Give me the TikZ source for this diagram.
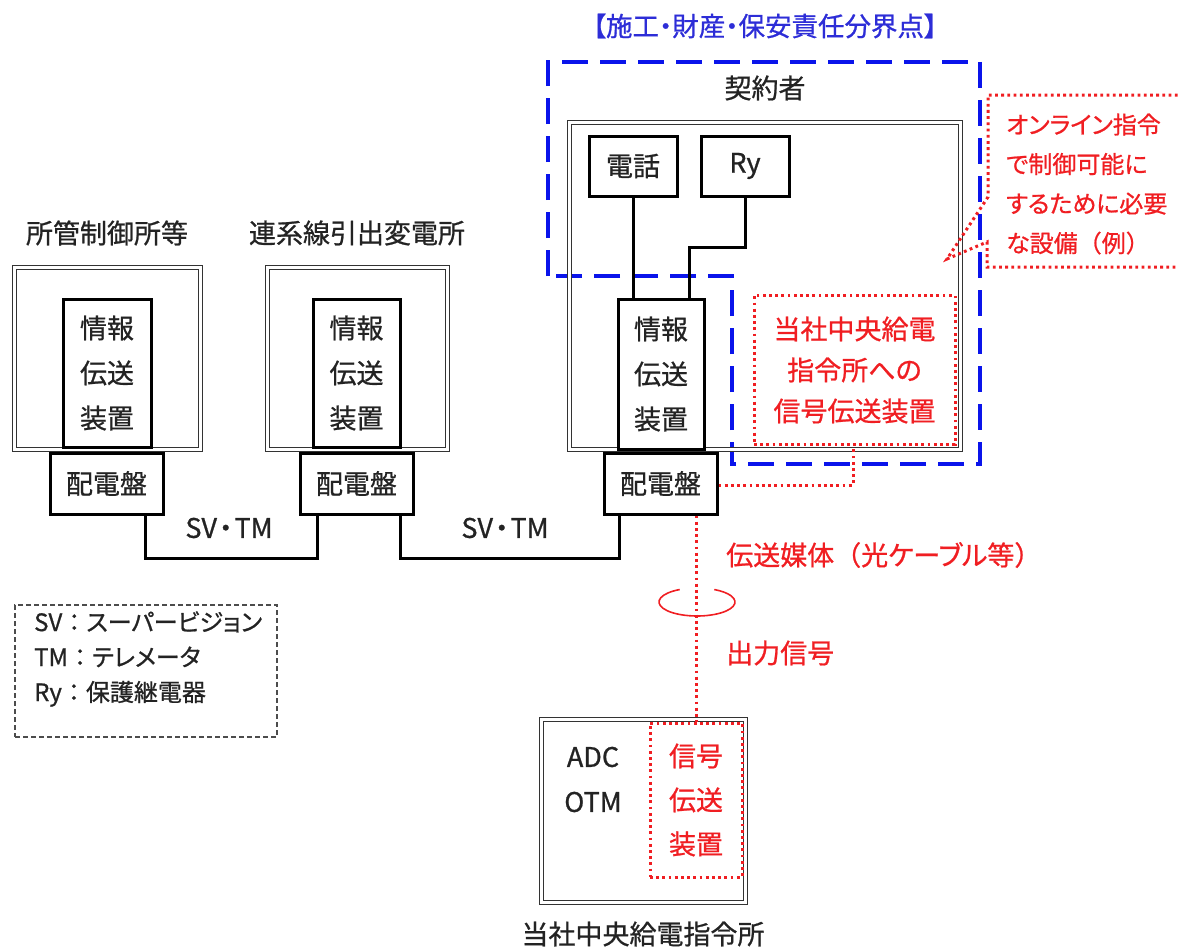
\documentclass[tikz,border=0pt]{standalone}
\usepackage{fontspec}
\setmainfont{Noto Sans CJK JP}[RawFeature={+palt;embolden=0.8}]
\newfontfamily\nopalt{Noto Sans CJK JP}[RawFeature={embolden=0.8}]
\definecolor{redc}{RGB}{240,30,34}
\definecolor{bluec}{RGB}{10,20,235}
\definecolor{titleblue}{RGB}{45,45,215}
\definecolor{textc}{RGB}{35,35,35}
\begin{document}
\begin{tikzpicture}[x=1pt,y=-1pt,
  txt/.style={font=\fontsize{27}{45}\selectfont, text=textc, inner sep=0pt},
  rtxt/.style={font=\fontsize{27}{41}\selectfont, text=redc, inner sep=0pt},
  dbox/.style={rectangle, draw=black!80, line width=1.6pt, double=white, double distance=2.4pt, inner sep=0pt},
  bbox/.style={rectangle, draw=black, line width=3pt, fill=white, inner sep=0pt, txt, align=center},
  conn/.style={draw=black, line width=3pt},
  rdot/.style={draw=redc, line width=3pt, dash pattern=on 2.8pt off 3.4pt},
  bdash/.style={draw=bluec, line width=4.2pt, dash pattern=on 26pt off 12pt},
  lgbox/.style={rectangle, draw=black!70, line width=1.5pt, dash pattern=on 5pt off 3pt, inner sep=0pt}
]
\useasboundingbox (0,0) rectangle (1178,950);

% title and boundary
\node[font=\fontsize{26.5}{30}\selectfont, text=titleblue, inner sep=0pt] (title) at (765,26) {【施工・財産・保安責任分界点】};
\coordinate (b1) at (548,62);
\coordinate (b2) at (980,62);
\coordinate (b3) at (980,464);
\coordinate (b4) at (732,464);
\coordinate (b5) at (732,276);
\coordinate (b6) at (548,276);
\draw[bdash] (b6) -- (b1) -- (b2) -- (b3) -- (b4) -- (b5) -- (b6);

% station 1
\node[txt] (l1) at (107,233) {所管制御所等};
\node[dbox, minimum width=186pt, minimum height=182pt] (s1) at (107.5,358.5) {};
\node[bbox, minimum width=88pt, minimum height=148pt] (i1) at (107,373) {情報\\伝送\\装置};
\node[bbox, minimum width=113pt, minimum height=61pt] (p1) at (106.5,483.5) {配電盤};

% station 2
\node[txt] (l2) at (357,233) {連系線引出変電所};
\node[dbox, minimum width=180pt, minimum height=182pt] (s2) at (357.5,358.5) {};
\node[bbox, minimum width=87pt, minimum height=148pt] (i2) at (356.5,373) {情報\\伝送\\装置};
\node[bbox, minimum width=113pt, minimum height=61pt] (p2) at (356.5,483.5) {配電盤};

% contractor
\node[txt] (l3) at (765,88) {契約者};
\node[dbox, minimum width=391pt, minimum height=327pt] (s3) at (765,286) {};
\node[bbox, minimum width=88pt, minimum height=60pt] (tel) at (633,166) {電話};
\node[bbox, minimum width=88pt, minimum height=60pt] (ry) at (745,166) {Ry};
\node[bbox, minimum width=86pt, minimum height=150pt] (i3) at (661,374) {情報\\伝送\\装置};
\node[bbox, minimum width=113pt, minimum height=61pt] (p3) at (660.5,483.5) {配電盤};
\node[rectangle, rdot, minimum width=201pt, minimum height=149pt, rtxt, align=center] (sigA) at (854.5,370) {当社中央給電\\指令所への\\信号伝送装置};

% internal connectors
\draw[conn] (tel.south) -- (tel.south |- i3.north);
\coordinate (rymid) at (745,247);
\draw[conn] (ry.south) -- (rymid) -- (689,247) -- (689,0 |- i3.north);

% SV TM links
\coordinate (k1) at (145,558);
\coordinate (k2) at (317,558);
\draw[conn] (p1.south -| k1) -- (k1) -- (k2) -- (p2.south -| k2);
\coordinate (k3) at (400,558);
\coordinate (k4) at (619,558);
\draw[conn] (p2.south -| k3) -- (k3) -- (k4) -- (p3.south -| k4);
\node[txt] (sv1) at (229,528) {SV\hspace{2pt}・\hspace{2pt}TM};
\node[txt] (sv2) at (505,528) {SV\hspace{2pt}・\hspace{2pt}TM};

% red dotted from panel to signal device
\coordinate (r1) at (853,485);
\draw[rdot] (p3.east |- r1) -- (r1) -- (r1 |- sigA.south);

% callout
\coordinate (c1) at (1190,95);
\coordinate (c2) at (988,95);
\coordinate (c3) at (988,197);
\coordinate (ctip) at (947,259);
\coordinate (c4) at (987,242);
\coordinate (c5) at (987,267);
\coordinate (c6) at (1190,267);
\draw[rdot] (c1) -- (c2) -- (c3) -- (ctip) -- (c4) -- (c5) -- (c6);
\node[font=\fontsize{24}{39.5}\selectfont, text=redc, inner sep=0pt, align=left, anchor=west] (ctxt) at (1006,184) {オンライン指令\\で制御可能に\\するために必要\\な設備{\nopalt （}例{\nopalt ）}};

% central dispatch
\node[dbox, minimum width=204pt, minimum height=183pt] (cd) at (643.5,811) {};
\node[rectangle, rdot, minimum width=92pt, minimum height=154pt, rtxt, align=center, font=\fontsize{27}{44}\selectfont] (sigB) at (696,800) {信号\\伝送\\装置};
\node[txt, align=center] (adc) at (593,779.5) {ADC\\OTM};
\node[txt] (l4) at (643,934) {当社中央給電指令所};

% transmission medium
\draw[rdot] (p3.south -| sigB.north) -- (sigB.north);
\coordinate (cable) at (697,602);
\draw[redc, line width=1.6pt] (cable) ++(243:38 and 14) arc[start angle=243, end angle=-63, x radius=38, y radius=14];
\node[rtxt, anchor=west] (med) at (726,555) {伝送媒体{\nopalt （}光ケーブル等{\nopalt ）}};
\node[rtxt, anchor=west] (out) at (726,653) {出力信号};

% legend
\node[lgbox, minimum width=262pt, minimum height=132pt] (lg) at (146,671) {};
\node[font=\fontsize{24}{35}\selectfont, text=textc, inner sep=0pt, align=left, anchor=west] (lgt) at (34,659) {SV{\nopalt ：}スーパービジョン\\TM{\nopalt ：}テレメータ\\Ry{\nopalt ：}保護継電器};
\end{tikzpicture}
\end{document}
